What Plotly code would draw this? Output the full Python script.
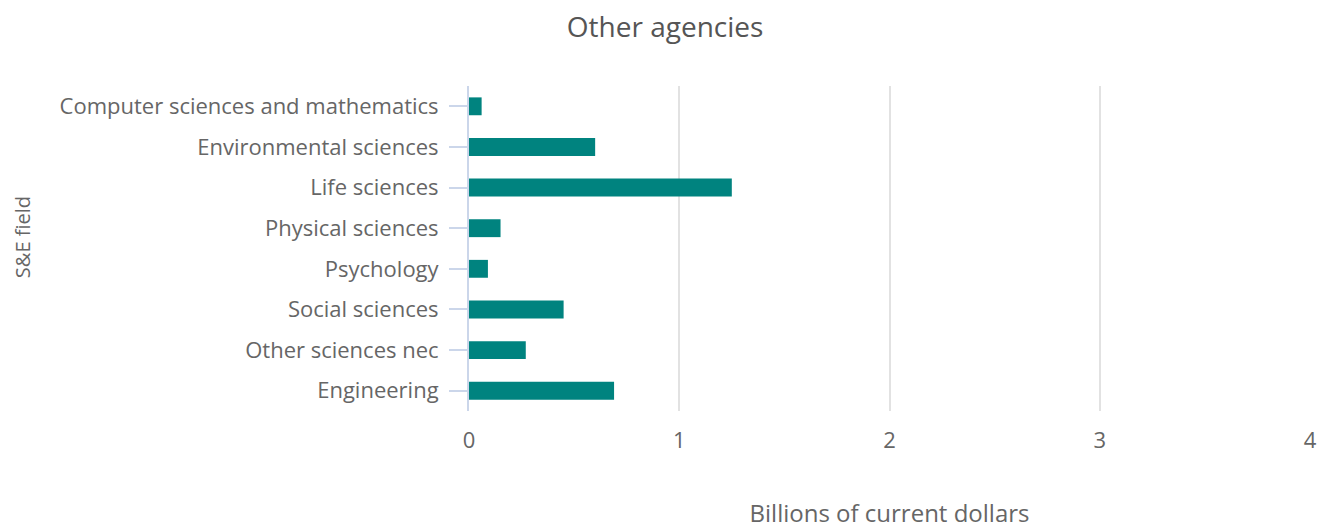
import plotly.graph_objects as go

# S&E fields, listed top to bottom as shown on the chart
fields = [
    "Computer sciences and mathematics",
    "Environmental sciences",
    "Life sciences",
    "Physical sciences",
    "Psychology",
    "Social sciences",
    "Other sciences nec",
    "Engineering",
]
# Obligations in billions of current dollars
billions = [0.06, 0.60, 1.25, 0.15, 0.09, 0.45, 0.27, 0.69]

x_ticks = [0, 1, 2, 3, 4]

font_family = "Open Sans, sans-serif"
text_grey = "#666666"

fig = go.Figure(
    go.Bar(
        x=billions,
        y=fields,
        orientation="h",
        marker=dict(color="#00837F", line=dict(width=0)),
        width=0.44,
    )
)

fig.update_layout(
    width=1317,
    height=529,
    plot_bgcolor="white",
    paper_bgcolor="white",
    margin=dict(l=469, r=7, t=86, b=118, autoexpand=False),
    showlegend=False,
    title=dict(
        text="Other agencies",
        x=0.505,
        xanchor="center",
        y=0.948,
        yanchor="middle",
        font=dict(family=font_family, size=28, color="#555555"),
    ),
    font=dict(family=font_family, color=text_grey),
)

fig.update_xaxes(
    range=[0, 4.0],
    tickvals=x_ticks,
    automargin=False,
    showgrid=True,
    gridcolor="#e2e2e2",
    gridwidth=2,
    zeroline=False,
    showline=False,
    ticks="",
    ticklabelstandoff=14,
    tickfont=dict(size=22, color=text_grey),
    title=dict(
        text="Billions of current dollars",
        font=dict(size=24, color=text_grey),
        standoff=61,
    ),
)

fig.update_yaxes(
    categoryorder="array",
    categoryarray=fields[::-1],
    autorange=True,
    automargin=False,
    showgrid=False,
    zeroline=False,
    showline=True,
    linecolor="#cbd6ea",
    linewidth=2,
    ticks="outside",
    ticklen=18,
    tickwidth=2,
    tickcolor="#cbd6ea",
    ticklabelstandoff=6,
    tickfont=dict(size=22, color=text_grey),
)

# Vertical axis caption for the field categories
fig.add_annotation(
    text="S&E field",
    textangle=-90,
    xref="paper",
    yref="paper",
    x=-0.5315,
    y=0.535,
    xanchor="center",
    yanchor="middle",
    showarrow=False,
    font=dict(family=font_family, size=20, color=text_grey),
)

fig.write_html("out.html")
